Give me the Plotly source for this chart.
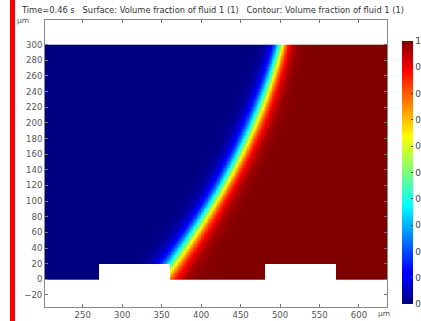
import numpy as np
import plotly.graph_objects as go

# --- data ---
# interface (volume fraction = 0.5) centre line, µm
interface_y = [18, 50, 101, 153, 204, 300]
interface_x = [366, 378, 418, 447, 468, 500]
# interface thickness (tanh width, µm) read at several heights
width_y = [0, 50, 101, 204, 300]
width_w = [19, 17, 15, 14, 11]
# rectangular obstacles at the bottom wall (x0, x1, height)
block_x0 = [270, 480]
block_x1 = [360, 570]
block_h = [20, 20]
domain_x = [202, 636]
domain_y = [0, 300]
x_ticks = [250, 300, 350, 400, 450, 500, 550, 600]
y_ticks = [-20, 0, 20, 40, 60, 80, 100, 120, 140, 160, 180, 200, 220, 240, 260, 280, 300]
cb_ticks = [0, 0.1, 0.2, 0.3, 0.4, 0.5, 0.6, 0.7, 0.8, 0.9, 1]
cb_labels = ["0", "0.1", "0.2", "0.3", "0.4", "0.5", "0.6", "0.7", "0.8", "0.9", "1"]
title_text = "Time=0.46 s   Surface: Volume fraction of fluid 1 (1)   Contour: Volume fraction of fluid 1 (1)"

# --- field ---
xc = np.arange(domain_x[0], domain_x[1]) + 0.5
yc = np.arange(domain_y[0], domain_y[1]) + 0.5
X, Y = np.meshgrid(xc, yc)
coef = np.polyfit(interface_y, interface_x, 2)          # smooth the read points
centre = np.polyval(coef, yc)[:, None]
width = np.interp(yc, width_y, width_w)[:, None]
Z = 0.5 * (1 + np.tanh((X - centre) / width))
for a, b, h in zip(block_x0, block_x1, block_h):
    Z[(X > a) & (X < b) & (Y < h)] = np.nan

jet = [[0.0, "rgb(0,0,128)"], [0.11, "rgb(0,0,255)"], [0.125, "rgb(0,0,255)"],
       [0.34, "rgb(0,219,255)"], [0.375, "rgb(0,255,255)"], [0.5, "rgb(124,255,121)"],
       [0.64, "rgb(255,255,0)"], [0.66, "rgb(255,230,0)"], [0.89, "rgb(255,0,0)"],
       [1.0, "rgb(128,0,0)"]]

L, R, T, B = 45, 34, 20, 14
pw, ph = 421 - L - R, 321 - T - B
def px(xp):
    return (xp - L) / pw
def py(yp):
    return (321 - B - yp) / ph

fig = go.Figure()
fig.add_trace(go.Heatmap(
    x=xc, y=yc, z=Z, zmin=0, zmax=1, colorscale=jet, hoverinfo="skip",
    colorbar=dict(xref="container", x=402/421, xanchor="left", xpad=0,
                  yref="paper", y=py(304), yanchor="bottom", ypad=0,
                  len=263, lenmode="pixels", thickness=11, thicknessmode="pixels",
                  outlinewidth=0, ticks="inside", ticklen=2, tickcolor="#444",
                  tickvals=cb_ticks, ticktext=cb_labels,
                  tickfont=dict(size=9, color="#444", family="DejaVu Sans")),
))

fig.update_layout(
    width=421, height=321, margin=dict(l=L, r=R, t=T, b=B, autoexpand=False),
    paper_bgcolor="white", plot_bgcolor="white",
    font=dict(family="DejaVu Sans", size=8, color="#555"),
    title=dict(text=title_text, xref="container", x=22/421, xanchor="left",
               yref="container", y=1-10/321, yanchor="middle", automargin=False,
               font=dict(size=8.3, color="#333", family="DejaVu Sans")),
    xaxis=dict(range=[202.2, 635.5], tickvals=x_ticks, ticks="inside", ticklen=3,
               tickcolor="#777", showline=True, linecolor="#888", linewidth=1,
               mirror="ticks", showgrid=False, zeroline=False, automargin=False,
               tickfont=dict(size=8.5, color="#555")),
    yaxis=dict(range=[-35.4, 331.6], tickvals=y_ticks, ticks="inside", ticklen=3,
               tickcolor="#777", showline=True, linecolor="#888", linewidth=1,
               mirror="ticks", showgrid=False, zeroline=False, automargin=False,
               tickfont=dict(size=8.5, color="#555")),
)

fig.add_annotation(text="µm", x=px(15), y=py(21), xref="paper", yref="paper",
                   xanchor="left", yanchor="middle", showarrow=False,
                   font=dict(size=7.5, color="#555"))
fig.add_annotation(text="µm", x=px(376), y=py(313), xref="paper", yref="paper",
                   xanchor="left", yanchor="middle", showarrow=False,
                   font=dict(size=7.5, color="#555"))
# red vertical bar at the left edge of the picture
fig.add_shape(type="rect", xref="paper", yref="paper", x0=px(10), x1=px(15),
              y0=py(321), y1=py(0), fillcolor="red", line_width=0, layer="above")

fig.write_html("out.html", config={"displayModeBar": False},
               post_script="document.body.style.margin='0px';document.body.style.overflow='hidden';")
